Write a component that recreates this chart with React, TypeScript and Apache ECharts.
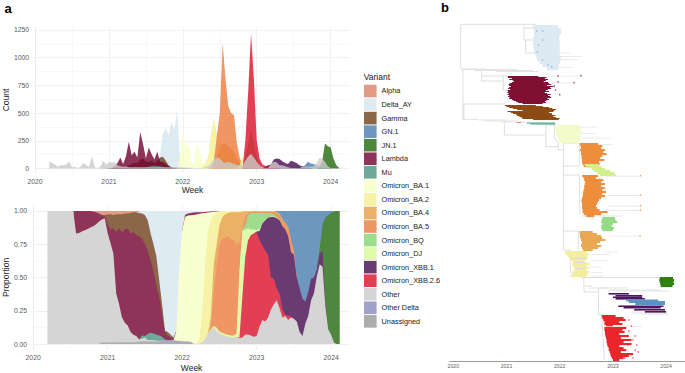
import React, { useEffect, useRef } from "react";
import * as echarts from "echarts";

const FONT = "Liberation Sans, Arial, sans-serif";
// Sampling grid: one column every two weeks, from week index 5 (2020.19) to 107 (2024.12).
const FIRST = 5;
const LAST = 107;
const weeks: number[] = [];
for (let i = FIRST; i <= LAST; i++) weeks.push(2020 + i / 26);

const colors: Record<string, string> = {
  Alpha: "#D88369", Delta_AY: "#D7E6F0", Gamma: "#6F401A", "GN.1": "#4A7DAF", "JN.1": "#24690E",
  Lambda: "#70012E", Mu: "#4A927E", "Omicron_BA.1": "#F6FFC4", "Omicron_BA.2": "#F4F090",
  "Omicron_BA.4": "#E69F41", "Omicron_BA.5": "#EB7C3D", Omicron_BQ: "#86D570", Omicron_DJ: "#D7FA95",
  "Omicron_XBB.1": "#45094F", "Omicron_XBB.2.6": "#DB0F2A", Other: "#CBCBCB", "Other Delta": "#878CBF",
  Unassigned: "#989898",
};
const variants = Object.keys(colors);
const yearTicks = [2020, 2021, 2022, 2023, 2024];

// ---- Panel a, counts: [first week index, values]
const countAlpha: [number, number[]] = [27, [3, 5, 8, 10, 8, 5, 3]];
const countDelta: [number, number[]] = [42, [15, 50, 130, 310, 370, 300, 420, 350, 520, 80, 20, 5]];
const countGamma: [number, number[]] = [26, [2, 3, 5, 10, 10, 10, 25, 30, 40, 50, 50, 80, 90, 60, 60, 70, 50, 70, 100, 105, 70, 30, 10, 5, 2]];
const countGN1: [number, number[]] = [92, [5, 10, 10, 30, 60, 45, 40, 30, 20, 20, 10, 5, 2]];
const countJN1: [number, number[]] = [100, [10, 60, 225, 200, 190, 90, 30, 5]];
const countLambda: [number, number[]] = [27, [5, 20, 50, 100, 40, 110, 240, 120, 150, 100, 330, 220, 90, 190, 130, 80, 150, 60, 60, 40, 20, 8, 3]];
const countMu: [number, number[]] = [39, [5, 15, 25, 25, 25, 20, 15, 5]];
const countBA1: [number, number[]] = [51, [100, 340, 200, 210, 60, 30, 240, 150, 50, 10, 5]];
const countBA2: [number, number[]] = [59, [20, 50, 120, 320, 460, 300, 100, 30, 10, 3]];
const countBA4: [number, number[]] = [62, [10, 30, 100, 200, 220, 230, 200, 180, 150, 100, 60, 30, 10]];
const countBA5: [number, number[]] = [63, [80, 300, 500, 1130, 810, 560, 500, 480, 230, 100, 30, 15]];
const countBQ: [number, number[]] = [74, [100, 220, 350, 250, 100, 30]];
const countDJ: [number, number[]] = [72, [30, 110, 50]];
const countXBB1: [number, number[]] = [81, [15, 30, 35, 80, 90, 85, 65, 50, 40, 70, 60, 50, 30, 20, 15, 10, 5]];
const countXBB26: [number, number[]] = [74, [250, 700, 1220, 800, 250, 90, 35, 25, 20, 25, 30, 15, 5]];
const countOther: [number, number[]] = [5, [60, 50, 35, 15, 30, 30, 35, 65, 10, 15, 5, 15, 50, 30, 15, 110, 10, 5, 15, 70, 35, 55, 55, 55, 30, 20, 15, 20, 10, 10, 10, 12, 10, 12, 10, 12, 10, 12, 10, 10, 10, 12, 10, 10, 12, 10, 8, 8, 8, 6, 6, 5, 5, 5, 5, 10, 20, 50, 80, 100, 90, 60, 50, 60, 50, 40, 30, 30, 30, 70, 110, 130, 100, 60, 30, 10, 5, 5, 40, 60, 55, 30, 30, 20, 10, 5, 5, 5, 5, 15, 20, 15, 15, 20, 45, 95, 90, 60, 20, 5, 2, 0]];
const countOtherDelta: [number, number[]] = [45, [2, 3, 3, 2]];
const countUnassigned: [number, number[]] = [24, [3, 3, 4, 4, 5, 5, 5, 5, 5, 5, 6, 6, 6, 6, 6, 6, 6, 6, 6, 6, 6, 6, 6, 6, 6, 6, 6, 5, 5, 4, 3, 2]];

// ---- Panel a, proportions: cumulative upper edge of each band, bottom to top
const edgeUnassigned: [number, number[]] = [24, [.012, .012, .012, .012, .012, .012, .014, .014, .014, .014, .014, .014, .014, .02, .02, .02, .02, .02, .02, .02, .02, .02, .02, .02, .02, .02, .02, .02, .02, .02, .02, .015]];
const edgeOtherDelta: [number, number[]] = [45, [.026, .03, .03, .03, .028, .025, .022]];
const edgeOther: [number, number[]] = [5, [1, 1, 1, 1, 1, 1, 1, 1, 1, 1, .83, .835, .845, .855, .865, .875, .885, .9, .92, .935, .945, .835, .76, .68, .38, .3, .2, .16, .14, .09, .07, .06, .035, .04, .05, .03, .03, .028, .027, .025, .027, .03, .03, .03, .03, .027, .025, .025, .024, .022, .018, .004, 0, .005, .012, .04, .08, .1, .125, .1, .08, .07, .06, .055, .05, .05, .05, .045, .05, .07, .072, .065, .055, .06, .13, .18, .17, .2, .26, .3, .33, .27, .2, .21, .18, .2, .19, .17, .09, .06, .155, .21, .33, .38, .51, .6, .58, .28, .11, .07, .01, 0, 0]];
const edgeXBB26: [number, number[]] = [72, [.05, .35, .65, .78, .82, .83, .84, .78, .74, .7, .67, .5, .49, .42, .38, .26, .22, .215, .205]];
const edgeXBB1: [number, number[]] = [78, [.845, .85, .905, .93, .95, .955, .955, .945, .93, .885, .86, .81, .69, .67, .5, .42, .34, .32, .39, .49, .5, .56, .68, .7, .3]];
const edgeDJ: [number, number[]] = [62, [.11, .135, .125, .095, .085, .075, .07, .065, .065, .08, .55, .85, .86, .87, .86, .86, .855, .865, .91, .935, .953, .958, .958, .948]];
const edgeBQ: [number, number[]] = [73, [.86, .89, .97, .985, .985, .985, .985, .985, .985, .985, .98, .975, .955, .935]];
const edgeBA5: [number, number[]] = [62, [.13, .38, .58, .75, .79, .8, .81, .79, .78, .75, .76, .87, .955, .985, .992, .993, .993, .993, .993, .993, .993, .993, .99, .98, .97, .93, .9, .87, .77, .69]];
const edgeBA4: [number, number[]] = [61, [.08, .2, .6, .74, .89, .95, .975, .985, .99, .99, .99, .992, .995, .997, .998, .998, .998, .998, .998, .998, .998, .998, .998, .998, .99, .98, .94, .91, .88, .78, .7]];
const edgeBA2: [number, number[]] = [56, [.005, .01, .03, .25, .6, .85, .93, .965, .98, .995, .998, .999, 1, 1, 1, 1, 1, 1, 1, 1, .999, .999, .999, .999, .999, .999, .999, .999, .999]];
const edgeBA1: [number, number[]] = [50, [.1, .58, .85, .955, .965, .967, .97, .973, .978, .982, .985, .988, .99, .993, .995, .998]];
const edgeMu: [number, number[]] = [38, [.065, .06, .075, .085, .08, .07, .065, .055, .035, .03]];
const edgeLambda: [number, number[]] = [14, [1, 1, 1, 1, 1, 1, 1, .995, .99, .98, .97, .96, .905, .86, .87, .84, .87, .84, .86, .87, .83, .84, .82, .81, .79, .755, .7, .63, .55, .44, .36, .22, .09, .065, .05, .04, 0, 0, 0, .97, .98, .985, .988, .99, .99, .99, .992, .993, .995, .997, 1]];
const edgeJN1: [number, number[]] = [100, [.72, .9, .95, .97, .985, .995, 1, 1]];
const edgeGN1: [number, number[]] = [84, [1, 1, 1, 1, 1, 1, 1, 1, 1, 1, 1, 1, 1, 1, 1, 1, 1, 1, 1, 1, 1, 1, 1, 1]];
const edgeGamma: [number, number[]] = [25, [.97, .975, .975, .97, .975, .975, .975, .98, .98, .985, .99, .99, .985, .98, .97, .93, .83, .75, .66, .48, .3, .1, .09, .07, .05, .03]];
const edgeDelta: [number, number[]] = [36, [.99, .995, 1, 1, 1, 1, 1, 1, 1, 1, 1, 1, 1, 1, 1, 1, 1, 1, 1, 1, 1, 1, 1, 1, 1, 1, 1, 1, 1]];
const edgeAlpha: [number, number[]] = [20, [1, 1, 1, 1, 1, 1, 1, 1, 1, 1, 1, 1, 1, 1, 1, 1, 1, 1]];

// ---- Panel b: tree. Tip rows are [row, first year, last year]
const rowsDelta = [[25, 2021.5, 2021.97], [28, 2021.51, 2022.03], [31, 2021.52, 2022.03], [34, 2021.52, 2022], [37, 2021.5, 2021.99], [40, 2021.5, 2022], [43, 2021.5, 2022], [46, 2021.51, 2022], [49, 2021.52, 2022], [52, 2021.53, 2022], [55, 2021.56, 2022.02], [58, 2021.58, 2022.02], [61, 2021.62, 2022], [64, 2021.68, 2021.98], [67, 2021.76, 2021.98]];
const rowsLambda = [[76, 2021.02, 2021.6], [77, 2021.03, 2021.75], [78, 2021.1, 2021.72], [79, 2021.05, 2021.78], [80, 2021.12, 2021.74], [81, 2021.14, 2021.7], [82, 2021.1, 2021.78], [83, 2021.06, 2021.8], [84, 2021.04, 2021.84], [85, 2021.05, 2021.76], [86, 2021.08, 2021.88], [87, 2021.05, 2021.82], [88, 2021.03, 2021.84], [89, 2021.07, 2021.78], [90, 2021.02, 2021.74], [91, 2021.03, 2021.8], [92, 2021.02, 2021.72], [93, 2021.04, 2021.76], [94, 2021.02, 2021.83], [95, 2021.05, 2021.78], [96, 2021.03, 2021.82], [97, 2021.06, 2021.84], [98, 2021.05, 2021.77], [99, 2021.1, 2021.8], [100, 2021.13, 2021.75], [101, 2021.18, 2021.72], [102, 2021.22, 2021.74], [103, 2021.3, 2021.68]];
const rowsGamma = [[105, 2020.97, 2021.55], [106, 2021, 2021.68], [107, 2021.05, 2021.8], [108, 2021.12, 2021.86], [109, 2021.2, 2021.93], [110, 2021.3, 2021.9], [111, 2021.02, 2021.88], [112, 2021.08, 2021.8], [113, 2021.12, 2021.85], [114, 2021.18, 2021.86], [115, 2021.2, 2021.92], [116, 2021.24, 2021.88], [117, 2021.28, 2021.93], [118, 2021.3, 2022], [119, 2021.5, 2021.98]];
const rowsMu = [[122.5, 2021.38, 2021.91], [123.5, 2021.45, 2021.92]];
const rowsAlpha = [[122, 2021.19, 2021.28]];
const rowsBA1 = [[125, 2021.92, 2022.38], [127, 2021.92, 2022.41], [129, 2021.92, 2022.38], [131, 2021.93, 2022.42], [133, 2021.93, 2022.36], [135, 2021.95, 2022.4], [137, 2021.97, 2022.38], [139, 2021.98, 2022.4], [141, 2022, 2022.36]];
const rowsBA5 = [[143, 2022.38, 2022.72], [145, 2022.39, 2022.8], [147, 2022.4, 2022.78], [149, 2022.38, 2022.85], [151, 2022.4, 2022.82], [153, 2022.4, 2022.88], [155, 2022.41, 2022.8], [157, 2022.41, 2022.76], [159, 2022.42, 2022.84], [161, 2022.42, 2022.74], [163, 2022.43, 2022.75], [165, 2022.45, 2022.68], [175, 2022.42, 2022.72], [177, 2022.45, 2022.68], [179, 2022.46, 2022.82], [181, 2022.48, 2022.78], [183, 2022.47, 2022.85], [185, 2022.46, 2022.78], [187, 2022.46, 2022.85], [189, 2022.45, 2022.8], [191, 2022.44, 2022.87], [193, 2022.44, 2022.8], [195, 2022.43, 2022.85], [197, 2022.42, 2022.78], [199, 2022.41, 2022.74], [201, 2022.41, 2022.72], [203, 2022.42, 2022.7], [205, 2022.42, 2022.68], [207, 2022.42, 2022.7], [209, 2022.43, 2022.75], [211, 2022.43, 2022.9], [213, 2022.45, 2022.78], [215, 2022.5, 2022.65]];
const rowsDJ = [[164, 2022.47, 2022.72], [166, 2022.5, 2022.78], [168, 2022.6, 2022.85], [170, 2022.65, 2022.95], [172, 2022.7, 2023.03], [174, 2022.75, 2023.05]];
const rowsBQ = [[217, 2022.8, 2023.04], [219, 2022.79, 2023.05], [221, 2022.78, 2023.08], [223, 2022.8, 2023], [225, 2022.78, 2022.98], [227, 2022.78, 2023.02], [229, 2022.8, 2023]];
const rowsBA4 = [[231, 2022.37, 2022.62], [233, 2022.38, 2022.7], [235, 2022.38, 2022.78], [237, 2022.39, 2022.8], [239, 2022.4, 2022.86], [241, 2022.42, 2022.76], [243, 2022.41, 2022.7], [245, 2022.4, 2022.78], [247, 2022.42, 2022.72], [249, 2022.44, 2022.62]];
const rowsBA2 = [[251, 2022.1, 2022.5], [253, 2022.12, 2022.55], [255, 2022.15, 2022.52], [257, 2022.18, 2022.52], [259, 2022.22, 2022.5], [261, 2022.24, 2022.46], [263, 2022.24, 2022.56], [265, 2022.25, 2022.5], [267, 2022.27, 2022.54], [269, 2022.27, 2022.5], [271, 2022.24, 2022.55], [273, 2022.24, 2022.52], [275, 2022.2, 2022.5]];
const rowsJN1 = [[277, 2023.88, 2024.13], [279, 2023.87, 2024.15], [281, 2023.88, 2024.14], [283, 2023.89, 2024.15], [285, 2023.9, 2024.12]];
const rowsXBB1 = [[293, 2022.92, 2023.3], [295, 2023.05, 2023.55], [296.5, 2023, 2023.55], [298, 2023.05, 2023.6], [305.5, 2023.1, 2023.95], [307, 2023.2, 2023.9], [309, 2023.4, 2023.98], [311, 2023.6, 2024]];
const rowsGN1 = [[299.5, 2023.25, 2023.85], [301, 2023.3, 2023.98], [303, 2023.42, 2023.98]];
const rowsXBB26 = [[315, 2022.79, 2023.05], [317, 2022.8, 2023.2], [319, 2022.82, 2023.24], [321, 2022.84, 2023.12], [323, 2022.84, 2023.18], [325, 2022.87, 2023], [327, 2022.84, 2023.25], [329, 2022.84, 2023.18], [331, 2022.85, 2023.22], [333, 2022.85, 2023.12], [335, 2022.86, 2023.3], [337, 2022.87, 2023.15], [339, 2022.88, 2023.35], [341, 2022.88, 2023.2], [343, 2022.89, 2023.35], [345, 2022.9, 2023.12], [347, 2022.92, 2023.2], [349, 2022.92, 2023.25], [351, 2022.94, 2023.15], [353, 2022.95, 2023.38], [355, 2022.96, 2023.3], [357, 2022.98, 2023.2], [359, 2023, 2023.12]];
const rowsGrey = [[24, 2021.33, 2021.55], [69, 2020.2, 2021.2], [70, 2020.4, 2021.5], [71, 2020.8, 2021.6], [119.5, 2020.47, 2021], [120.5, 2020.6, 2021.2], [121.5, 2020.9, 2021.35], [287.5, 2022.55, 2023.29], [289.5, 2022.9, 2023.9], [290.5, 2023, 2024.07], [305, 2023.12, 2023.5], [312.5, 2023.35, 2024.04], [313.5, 2023.55, 2024.04], [215.5, 2022.41, 2023.18]];
const rowsGreyOverBA2 = [[258, 2022.2, 2022.52], [262, 2022.26, 2022.5], [268, 2022.3, 2022.45]];
const hairs = [[52.7, 2021.91, 2022.2], [56, 2021.88, 2022.41], [59.3, 2022, 2022.33], [67.3, 2021.97, 2022.22], [75.7, 2021.76, 2022.4], [82.7, 2021.85, 2022.27], [126.7, 2022.35, 2022.71], [133.3, 2022.38, 2022.66], [137.7, 2022.41, 2022.96], [144, 2022.72, 2022.99], [175.7, 2022.85, 2023.52], [195, 2022.9, 2023.52], [205.7, 2022.9, 2023.52], [210, 2022.85, 2023.52], [235.7, 2022.91, 2023.51], [251.7, 2022.85, 2023.1], [254.3, 2022.6, 2022.95], [260, 2022.6, 2022.9], [266.7, 2022.5, 2022.79], [272, 2022.6, 2022.8], [275.7, 2022.6, 2022.82], [326, 2022.84, 2023.55]];
// Tree branches: [year, row, year, row]
const branches = [
  [2020.14, 24.3, 2021.54, 24.3], [2020.14, 24.3, 2020.14, 69], [2020.14, 69, 2020.6, 69], [2020.18, 69, 2020.18, 119.3],
  [2020.18, 104, 2020.97, 104], [2020.18, 119.3, 2020.47, 119.3], [2020.2, 104, 2020.2, 119.3],
  [2021.33, 24.3, 2021.33, 40], [2021.33, 28, 2021.54, 28], [2021.33, 40, 2021.54, 40], [2021.36, 40, 2021.36, 53], [2021.36, 53, 2021.56, 53],
  [2020.53, 71, 2020.53, 81], [2020.53, 76, 2021, 76], [2020.53, 81, 2020.94, 81], [2020.94, 76, 2020.94, 90], [2020.94, 90, 2021.03, 90],
  [2020.96, 122, 2020.96, 135], [2020.96, 135, 2021.72, 135], [2021.74, 125, 2021.74, 146.7], [2021.74, 146.7, 2021.97, 146.7], [2021.74, 125, 2021.91, 125],
  [2021.9, 125, 2021.9, 138], [2021.9, 138, 2021.97, 143], [2021.97, 143, 2021.97, 150], [2021.97, 150, 2022.07, 150],
  [2022.07, 143, 2022.07, 250], [2022.07, 143, 2022.37, 143], [2022.37, 143, 2022.37, 165], [2022.07, 166, 2022.37, 166], [2022.07, 175, 2022.37, 175],
  [2022.37, 175, 2022.38, 215], [2022.07, 231, 2022.35, 231], [2022.35, 231, 2022.35, 250], [2022.07, 250, 2022.2, 250],
  [2022.2, 250, 2022.2, 273], [2022.22, 273, 2022.45, 278], [2022.45, 277.5, 2023.87, 277.5], [2022.45, 278, 2022.46, 292], [2022.46, 292, 2022.72, 292],
  [2022.47, 286, 2022.6, 286], [2022.73, 288, 2022.73, 315], [2022.73, 288, 2022.9, 288], [2022.74, 315, 2022.85, 315], [2022.79, 315, 2022.84, 360], [2022.13, 125, 2022.13, 143],
];
const dotsLambda = [[2022.4, 75.7], [2022.27, 82.7], [2021.97, 76], [2021.97, 82], [2022, 94.7], [2021.92, 90], [2021.9, 86]];
const dotsDelta = [[2021.68, 31], [2021.57, 31], [2021.68, 40], [2021.58, 52], [2021.68, 60], [2021.78, 65], [2021.85, 67], [2021.6, 45]];
const dotsBA5 = [[2023.52, 175.7], [2023.52, 195], [2023.52, 205.7], [2023.52, 210], [2023.51, 235.7]];
const dotsXBB26 = [[2023.3, 320], [2023.35, 326], [2023.42, 336], [2023.38, 340], [2023.45, 345], [2023.42, 350], [2023.48, 352], [2023.38, 358], [2023.28, 345], [2023.3, 331], [2023.22, 358]];

const pad = ([start, values]: [number, number[]]) => {
  const out = new Array(weeks.length).fill(0);
  values.forEach((v, k) => { out[start + k - FIRST] = v; });
  return out;
};
const toPoints = (vals: (number | null)[]) => vals.map((v, k) => [weeks[k], v]);

const countSeries: [string, [number, number[]]][] = [
  ["Alpha", countAlpha], ["Delta_AY", countDelta], ["Gamma", countGamma], ["GN.1", countGN1], ["JN.1", countJN1], ["Lambda", countLambda], ["Mu", countMu],
  ["Omicron_BA.1", countBA1], ["Omicron_BA.2", countBA2], ["Omicron_BA.4", countBA4], ["Omicron_BA.5", countBA5], ["Omicron_BQ", countBQ], ["Omicron_DJ", countDJ],
  ["Omicron_XBB.1", countXBB1], ["Omicron_XBB.2.6", countXBB26], ["Other", countOther], ["Other Delta", countOtherDelta], ["Unassigned", countUnassigned],
];
const edgeSeries: [string, [number, number[]]][] = [
  ["Unassigned", edgeUnassigned], ["Other Delta", edgeOtherDelta], ["Other", edgeOther], ["Omicron_XBB.2.6", edgeXBB26], ["Omicron_XBB.1", edgeXBB1], ["Omicron_DJ", edgeDJ],
  ["Omicron_BQ", edgeBQ], ["Omicron_BA.5", edgeBA5], ["Omicron_BA.4", edgeBA4], ["Omicron_BA.2", edgeBA2], ["Omicron_BA.1", edgeBA1], ["Mu", edgeMu], ["Lambda", edgeLambda],
  ["JN.1", edgeJN1], ["GN.1", edgeGN1], ["Gamma", edgeGamma], ["Delta_AY", edgeDelta], ["Alpha", edgeAlpha],
];

const areaBase = (name: string) => ({
  type: "line", name, symbol: "none", silent: true, color: colors[name],
  lineStyle: { width: 0 }, areaStyle: { color: colors[name], opacity: 0.8 },
});
// The same colour as an 80% wash over white, solid, so layered bands do not show through each other.
const washed = (hex: string) => {
  const n = parseInt(hex.slice(1), 16);
  const ch = (v: number) => Math.round(v * 0.8 + 255 * 0.2);
  return `rgb(${ch((n >> 16) & 255)},${ch((n >> 8) & 255)},${ch(n & 255)})`;
};

// Each band is painted from the axis up to its upper edge, topmost band first,
// and only over the weeks where it has some thickness.
function buildProportions() {
  let below = new Array(weeks.length).fill(0);
  const layers = edgeSeries.map(([name, edge]) => {
    const raw = pad(edge);
    const top = below.map((b: number, k: number) => Math.max(b, raw[k]));
    const thick = top.map((t: number, k: number) => t - below[k] > 1e-9);
    const shown = top.map((t: number, k: number) => (thick[k] || thick[k - 1] || thick[k + 1] ? t : null));
    below = top;
    return {
      ...areaBase(name), areaStyle: { color: washed(colors[name]), opacity: 1 },
      xAxisIndex: 2, yAxisIndex: 2, data: toPoints(shown),
    };
  });
  return layers.reverse();
}

const tipSeries = (color: string, rows: number[][], height: number) => ({
  type: "custom", silent: true, xAxisIndex: 4, yAxisIndex: 4, data: rows, encode: { x: [1, 2], y: 0 },
  renderItem: (_p: any, api: any) => {
    const a = api.coord([api.value(1), api.value(0)]);
    const b = api.coord([api.value(2), api.value(0)]);
    return { type: "rect", shape: { x: a[0], y: a[1], width: b[0] - a[0], height }, style: { fill: color } };
  },
});
const branchSeries = () => ({
  type: "custom", silent: true, xAxisIndex: 4, yAxisIndex: 4, data: branches, encode: { x: [0, 2], y: [1, 3] },
  renderItem: (_p: any, api: any) => {
    const a = api.coord([api.value(0), api.value(1)]);
    const b = api.coord([api.value(2), api.value(3)]);
    return { type: "line", shape: { x1: a[0], y1: a[1], x2: b[0], y2: b[1] }, style: { stroke: "#D6D6D6", lineWidth: 0.8 } };
  },
});
const dotSeries = (color: string, data: number[][], size = 1.5) => ({
  type: "scatter", silent: true, xAxisIndex: 4, yAxisIndex: 4, data, symbolSize: size, itemStyle: { color },
});

const GRID_MAJOR = { show: true, showMinLine: false, showMaxLine: false, lineStyle: { color: "#EDEDED", width: 1 } };
const GRID_MINOR = { show: true, showMinLine: false, showMaxLine: false, lineStyle: { color: "#F3F3F3", width: 0.6 } };
const LABEL = { fontFamily: FONT, fontSize: 6.8, color: "#5A5A5A" };
const NAME = { fontFamily: FONT, fontSize: 8.5, color: "#222222" };

const minorAxis = (grid: number, min: number, max: number, step: number) => ({
  type: "value", gridIndex: grid, min, max, minInterval: step, maxInterval: step, silent: true,
  axisLine: { show: false }, axisTick: { show: false }, axisLabel: { show: false }, splitLine: GRID_MINOR,
});
const xMain = (grid: number, max: number, margin: number, nameGap: number) => ({
  type: "value", gridIndex: grid, min: 2020, max, minInterval: 1, maxInterval: 1, name: "Week", nameLocation: "middle", nameGap,
  nameTextStyle: NAME, axisLine: { show: false }, axisTick: { show: false },
  axisLabel: { ...LABEL, margin, showMaxLabel: false, formatter: (v: number) => (yearTicks.includes(v) ? String(v) : "") },
  splitLine: { ...GRID_MAJOR, showMinLine: true },
});
const yMain = (grid: number, min: number, max: number, step: number, name: string, nameGap: number, fmt: (v: number) => string) => ({
  type: "value", gridIndex: grid, min, max, minInterval: step, maxInterval: step, name, nameLocation: "middle", nameGap,
  nameTextStyle: NAME, axisLine: { show: false }, axisTick: { show: false },
  axisLabel: { ...LABEL, margin: 6, showMinLabel: false, showMaxLabel: false, formatter: fmt },
  splitLine: GRID_MAJOR,
});

export default function App() {
  const ref = useRef<HTMLDivElement>(null);
  useEffect(() => {
    document.body.style.margin = "0";
    const chart = echarts.init(ref.current!, null, { renderer: "svg" });
    const counts = countSeries.map(([name, values]) => ({
      ...areaBase(name), xAxisIndex: 0, yAxisIndex: 0, data: toPoints(pad(values)),
    }));
    const propMin = -6 / 135;
    const propMax = 1 + 6 / 135;
    chart.setOption({
      animation: false,
      backgroundColor: "#FFFFFF",
      textStyle: { fontFamily: FONT },
      grid: [
        { left: 33.3, top: 27, width: 316.7, height: 146 },
        { left: 31, top: 205, width: 319, height: 147 },
        { left: 450, top: 0, width: 235, height: 361 },
      ],
      xAxis: [
        xMain(0, 2024.262, 4.5, 12),
        minorAxis(0, 2020, 2024.262, 0.5),
        xMain(1, 2024.253, 3.5, 13),
        minorAxis(1, 2020, 2024.253, 0.5),
        {
          type: "value", gridIndex: 2, min: 2019.938, max: 2024.355, minInterval: 1, maxInterval: 1,
          axisLine: { show: true, onZero: false, lineStyle: { color: "#999999", width: 1 } }, axisTick: { show: false }, splitLine: { show: false },
          axisLabel: { fontFamily: FONT, fontSize: 5.2, color: "#666666", margin: 2.5, showMinLabel: false, showMaxLabel: false, formatter: (v: number) => (yearTicks.includes(v) ? String(v) : "") },
        },
      ],
      yAxis: [
        yMain(0, -41, 1277, 250, "Count", 21, (v) => String(v)),
        minorAxis(0, -41, 1277, 125),
        yMain(1, propMin, propMax, 0.25, "Proportion", 19.5, (v) => v.toFixed(2)),
        minorAxis(1, propMin, propMax, 0.125),
        { type: "value", gridIndex: 2, min: 0, max: 361, inverse: true, show: false, splitLine: { show: false } },
      ],
      legend: {
        left: 364, top: 84.7, orient: "vertical", icon: "rect", itemWidth: 12.6, itemHeight: 12.6, itemGap: 0.95, padding: 0,
        selectedMode: false, data: variants, itemStyle: { opacity: 0.8 },
        textStyle: { fontFamily: FONT, fontSize: 7.3, color: "#222222" },
      },
      graphic: [
        { type: "text", left: 4.5, top: 1.5, style: { text: "a", font: `bold 13px ${FONT}`, fill: "#000000" } },
        { type: "text", left: 441, top: 0.5, style: { text: "b", font: `bold 13px ${FONT}`, fill: "#000000" } },
        { type: "text", left: 363.7, top: 72, style: { text: "Variant", font: `8.5px ${FONT}`, fill: "#222222" } },
      ],
      series: [
        ...counts,
        ...buildProportions(),
        branchSeries(),
        tipSeries("#E3E3E3", rowsGrey, 1),
        tipSeries("#DDE9F3", rowsDelta, 3.1),
        tipSeries("#7F0F33", rowsLambda, 1.05),
        tipSeries("#8C4A14", rowsGamma, 1.05),
        tipSeries("#3E9C84", rowsMu, 1),
        tipSeries("#E8917A", rowsAlpha, 1),
        tipSeries("#F4FBCB", rowsBA1, 2.1),
        tipSeries("#EE8E3C", rowsBA5, 2.1),
        tipSeries("#CFF08A", rowsDJ, 2.1),
        tipSeries("#93DB85", rowsBQ, 2.1),
        tipSeries("#E8A950", rowsBA4, 2.1),
        tipSeries("#F3EE9E", rowsBA2, 2.1),
        tipSeries("#2F7F12", rowsJN1, 2.1),
        tipSeries("#4E1560", rowsXBB1, 1.6),
        tipSeries("#5C93C2", rowsGN1, 2.1),
        tipSeries("#E8262C", rowsXBB26, 2.1),
        tipSeries("#DADADA", rowsGreyOverBA2, 0.9),
        tipSeries("#E3E3E3", hairs, 0.7),
        dotSeries("#7F0F33", dotsLambda),
        dotSeries("#6F86C0", dotsDelta, 1.2),
        dotSeries("#EE8E3C", dotsBA5),
        dotSeries("#E8262C", dotsXBB26),
      ],
    });
    return () => chart.dispose();
  }, []);
  return <div ref={ref} style={{ width: 685, height: 373 }} />;
}
